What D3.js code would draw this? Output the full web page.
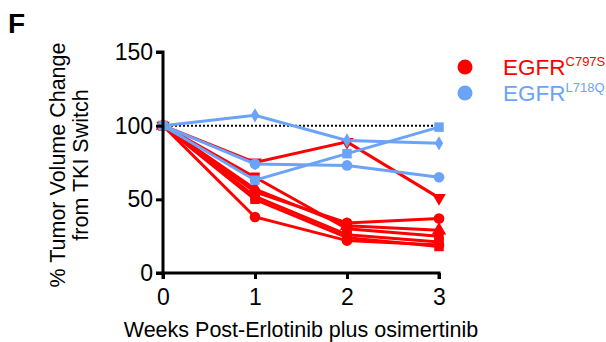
<!DOCTYPE html>
<html>
<head>
<meta charset="utf-8">
<script src="https://cdn.jsdelivr.net/npm/d3@7"></script>
<style>
  body { margin: 0; background: #fff; }
  text { font-family: Arial, "Liberation Sans", sans-serif; }
</style>
</head>
<body>
<div id="vis"></div>
<script>
var weeks = [0, 1, 2, 3];
var yTicks = [0, 50, 100, 150];

// red group: EGFR C797S
var redShapes = ['triangleDown', 'circle', 'circle', 'triangle', 'square', 'square', 'square'];
var redValues = [
  [100, 75, 89, 51],
  [100, 38, 22, 19],
  [100, 55, 34, 37],
  [100, 57, 32, 29],
  [100, 65, 30, 25],
  [100, 52, 26, 21],
  [100, 50, 24, 18]
];

// blue group: EGFR L718Q
var blueShapes = ['diamond', 'square', 'circle'];
var blueValues = [
  [100, 107, 90, 88],
  [100, 63, 81, 99],
  [100, 74, 73, 65]
];

var groupNames = ['EGFR', 'EGFR'];
var groupSups = ['C797S', 'L718Q'];
var groupColors = ['#ff0000', '#6aa3f8'];

var width = 606, height = 342;
var margin = { left: 163, right: 167, top: 52, bottom: 69 };

var svg = d3.select('#vis').append('svg')
  .attr('width', width)
  .attr('height', height);

var x = d3.scaleLinear().domain([0, 3]).range([margin.left, width - margin.right]);
var y = d3.scaleLinear().domain([0, 150]).range([height - margin.bottom, margin.top]);

// reference line at 100
svg.append('line')
  .attr('x1', x(0)).attr('x2', x(3))
  .attr('y1', y(100)).attr('y2', y(100))
  .attr('stroke', '#000')
  .attr('stroke-width', 2)
  .attr('stroke-dasharray', '2,2');

var line = d3.line()
  .x(function (d, i) { return x(weeks[i]); })
  .y(function (d) { return y(d); });

var symbolTypes = {
  circle: d3.symbolCircle,
  square: d3.symbolSquare,
  triangle: d3.symbolTriangle,
  diamond: d3.symbolDiamond
};

function drawMarker(g, shape, cx, cy, color) {
  if (shape === 'triangleDown') {
    g.append('path')
      .attr('d', d3.symbol().type(d3.symbolTriangle).size(80)())
      .attr('transform', 'translate(' + cx + ',' + cy + ') rotate(180)')
      .attr('fill', color);
    return;
  }
  var size = shape === 'diamond' ? 60 : 90;
  g.append('path')
    .attr('d', d3.symbol().type(symbolTypes[shape]).size(size)())
    .attr('transform', 'translate(' + cx + ',' + cy + ')')
    .attr('fill', color);
}

function drawGroup(values, shapes, color) {
  var g = svg.append('g');
  values.forEach(function (series, k) {
    g.append('path')
      .attr('d', line(series))
      .attr('fill', 'none')
      .attr('stroke', color)
      .attr('stroke-width', 3);
    series.forEach(function (v, i) {
      drawMarker(g, shapes[k], x(weeks[i]), y(v), color);
    });
  });
}

drawGroup(redValues, redShapes, groupColors[0]);
drawGroup(blueValues, blueShapes, groupColors[1]);

// axes
var yAxis = svg.append('g')
  .attr('transform', 'translate(' + margin.left + ',0)')
  .call(d3.axisLeft(y).tickValues(yTicks).tickFormat(d3.format('d')).tickSize(7).tickPadding(3));
var xAxis = svg.append('g')
  .attr('transform', 'translate(0,' + (height - margin.bottom) + ')')
  .call(d3.axisBottom(x).tickValues(weeks).tickFormat(d3.format('d')).tickSize(6).tickPadding(10));

[yAxis, xAxis].forEach(function (ax) {
  ax.select('.domain').attr('stroke', '#000').attr('stroke-width', 3);
  ax.selectAll('.tick line').attr('stroke', '#000').attr('stroke-width', 3);
  ax.selectAll('.tick text')
    .attr('fill', '#000')
    .style('font-size', '23px')
    .style('font-family', 'Arial, "Liberation Sans", sans-serif');
});
yAxis.select('.domain').attr('d', 'M-7,' + y(150) + 'H0V' + y(0) + 'H-7');
xAxis.select('.domain').attr('d', 'M' + x(0) + ',6V0H' + x(3) + 'V6');

// axis titles
svg.append('text')
  .attr('transform', 'translate(65,165) rotate(-90)')
  .attr('text-anchor', 'middle')
  .style('font-size', '21.5px')
  .text('% Tumor Volume Change');
svg.append('text')
  .attr('transform', 'translate(88,165) rotate(-90)')
  .attr('text-anchor', 'middle')
  .style('font-size', '21.5px')
  .text('from TKI Switch');

svg.append('text')
  .attr('x', 301)
  .attr('y', 337)
  .attr('text-anchor', 'middle')
  .style('font-size', '21.5px')
  .text('Weeks Post-Erlotinib plus osimertinib');

// panel letter
svg.append('text')
  .attr('x', 8)
  .attr('y', 33)
  .style('font-size', '28px')
  .style('font-weight', 'bold')
  .text('F');

// legend
var legend = svg.append('g');
groupNames.forEach(function (name, i) {
  var ly = 67 + i * 26;
  legend.append('circle')
    .attr('cx', 465).attr('cy', ly).attr('r', 7.5)
    .attr('fill', groupColors[i]);
  var t = legend.append('text')
    .attr('x', 503).attr('y', ly + 8)
    .attr('fill', groupColors[i])
    .style('font-size', '22.5px');
  t.append('tspan').text(name);
  t.append('tspan')
    .attr('dy', -9)
    .style('font-size', '13px')
    .text(groupSups[i]);
});
</script>
</body>
</html>
